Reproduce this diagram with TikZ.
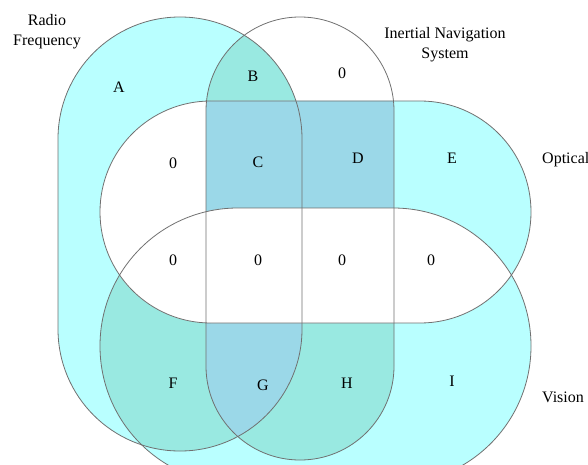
\documentclass[tikz,border=0pt]{standalone}
\usepackage{fontspec}
\setmainfont{Liberation Serif}

\definecolor{setcyan}{RGB}{185,255,255}
\definecolor{setteal}{RGB}{153,233,225}
\definecolor{setblue}{RGB}{155,216,232}
\definecolor{setline}{RGB}{112,112,112}

% the four sets
\newcommand{\radiofreq}{[rounded corners=121.9pt] (58,17) rectangle (302,451)}
\newcommand{\inertial}{[rounded corners=93.9pt] (206,17) rectangle (394,460)}
\newcommand{\optical}{[rounded corners=110.9pt] (100,101) rectangle (531,323)}
\newcommand{\vision}{[rounded corners=137.9pt] (100,208) rectangle (531,484)}

\tikzset{
    outline/.style={draw=setline, line width=0.8pt},
    region/.style={inner sep=0pt, font=\fontsize{16}{20}\selectfont},
    setname/.style={inner sep=0pt, align=center, font=\fontsize{16}{20}\selectfont}
}

\begin{document}
\begin{tikzpicture}[x=1pt, y=-1pt]
        \useasboundingbox (0,0) rectangle (588,465);
        \clip (0,0) rectangle (588,465);

        \fill[setcyan] \radiofreq;
        \fill[setcyan] \optical;
        \fill[setcyan] \vision;

        \begin{scope}
            \clip \inertial;
            \fill[setteal] \radiofreq;
            \fill[setteal] \vision;
        \end{scope}
        \begin{scope}
            \clip \radiofreq;
            \fill[setteal] \vision;
        \end{scope}
        \begin{scope}
            \clip \radiofreq;
            \fill[white] \optical;
        \end{scope}
        \begin{scope}
            \clip \inertial;
            \fill[setblue] \optical;
        \end{scope}
        \begin{scope}
            \clip \inertial;
            \clip \radiofreq;
            \fill[setblue] \vision;
        \end{scope}
        \begin{scope}
            \clip \optical;
            \fill[white] \vision;
        \end{scope}

        \draw[outline] \radiofreq;
        \draw[outline] \inertial;
        \draw[outline] \optical;
        \draw[outline] \vision;

        \node[setname] (rfname) at (47,32) {Radio\\Frequency};
        \node[setname] (insname) at (445,45) {Inertial Navigation\\System};
        \node[setname, anchor=west] (optname) at (542,160) {Optical};
        \node[setname, anchor=west] (visname) at (542,397) {Vision};

        \node[region] (regA) at (119,87) {A};
        \node[region] (regB) at (253,76) {B};
        \node[region] (regins) at (342,73) {0};
        \node[region] (regoptrf) at (173,163) {0};
        \node[region] (regC) at (258,162) {C};
        \node[region] (regD) at (358,158) {D};
        \node[region] (regE) at (452,158) {E};
        \node[region] (regmidA) at (173,260) {0};
        \node[region] (regmidB) at (258,260) {0};
        \node[region] (regmidC) at (342,260) {0};
        \node[region] (regmidD) at (431,260) {0};
        \node[region] (regF) at (173,383) {F};
        \node[region] (regG) at (263,385) {G};
        \node[region] (regH) at (347,383) {H};
        \node[region] (regI) at (452,381) {I};

    \end{tikzpicture}
\end{document}
